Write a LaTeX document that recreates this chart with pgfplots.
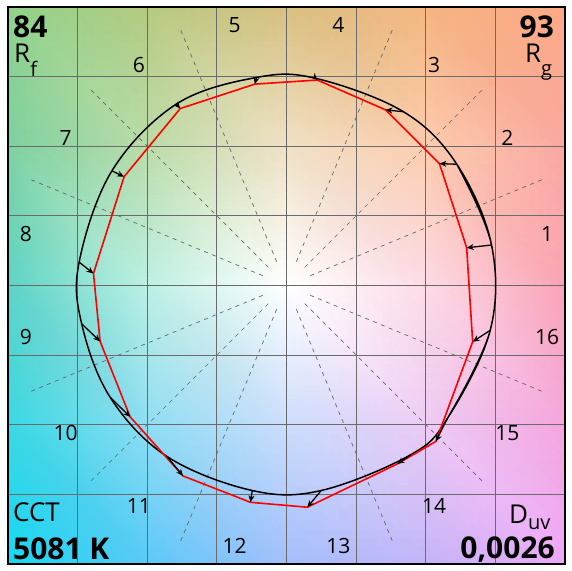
\documentclass[border=0pt]{standalone}
\usepackage{fontspec}
\setmainfont{Open Sans}
\usepackage{pgfplots}
\pgfplotsset{compat=1.18}
\usepackage{pgfplotstable}
\usetikzlibrary{arrows.meta}

% reference (rx,ry) and test (tx,ty) hue-bin averages, bins 1..16
\pgfplotstableread{
rx ry tx ty
0.957 0.189 0.841 0.176
0.795 0.566 0.714 0.569
0.546 0.811 0.462 0.820
0.136 0.967 0.144 0.959
-0.140 0.971 -0.148 0.940
-0.514 0.847 -0.496 0.826
-0.815 0.535 -0.758 0.508
-0.968 0.109 -0.901 0.056
-0.956 -0.179 -0.870 -0.261
-0.823 -0.522 -0.730 -0.613
-0.558 -0.798 -0.483 -0.889
-0.160 -0.957 -0.168 -1.012
0.162 -0.957 0.097 -1.035
0.580 -0.790 0.517 -0.833
0.752 -0.619 0.697 -0.728
0.951 -0.209 0.869 -0.263
}\bins

% reference curve, wrapped so the smooth line closes
\pgfplotstableread{
rx ry
0.752 -0.619
0.951 -0.209
0.957 0.189
0.795 0.566
0.546 0.811
0.136 0.967
-0.140 0.971
-0.514 0.847
-0.815 0.535
-0.968 0.109
-0.956 -0.179
-0.823 -0.522
-0.558 -0.798
-0.160 -0.957
0.162 -0.957
0.580 -0.790
0.752 -0.619
0.951 -0.209
0.957 0.189
0.795 0.566
}\refcurve

% background colour grid
\pgfplotstableread{
x y c
-1.3 -1.3 rgb=0.08,0.85,0.95
-0.65 -1.3 rgb=0.35,0.79,0.97
0 -1.3 rgb=0.64,0.75,0.99
0.65 -1.3 rgb=0.77,0.71,0.97
1.3 -1.3 rgb=0.93,0.66,0.97
-1.3 -0.65 rgb=0.22,0.85,0.89
-0.65 -0.65 rgb=0.56,0.87,0.95
0 -0.65 rgb=0.80,0.87,0.99
0.65 -0.65 rgb=0.93,0.80,0.96
1.3 -0.65 rgb=0.96,0.65,0.86
-1.3 0 rgb=0.36,0.83,0.77
-0.65 0 rgb=0.74,0.94,0.89
0 0 rgb=1,1,1
0.65 0 rgb=0.99,0.86,0.90
1.3 0 rgb=0.98,0.64,0.71
-1.3 0.65 rgb=0.49,0.82,0.63
-0.65 0.65 rgb=0.73,0.86,0.66
0 0.65 rgb=0.94,0.88,0.77
0.65 0.65 rgb=0.99,0.80,0.68
1.3 0.65 rgb=0.98,0.66,0.63
-1.3 1.3 rgb=0.56,0.82,0.54
-0.65 1.3 rgb=0.71,0.79,0.50
0 1.3 rgb=0.85,0.75,0.50
0.65 1.3 rgb=0.96,0.71,0.50
1.3 1.3 rgb=0.99,0.66,0.52
}\bg

\newcommand\binfont{\fontsize{21}{21}\selectfont}
\newcommand\labfont{\fontsize{26}{26}\selectfont}
\newcommand\valfont{\fontsize{30}{30}\selectfont\bfseries}
\newcommand\subfont{\fontsize{20}{20}\selectfont}

\begin{document}
\begin{tikzpicture}
\begin{axis}[
    set layers,
    width=557pt, height=557pt,
    scale only axis,
    xmin=-1.3, xmax=1.3,
    ymin=-1.3, ymax=1.3,
    xtick={-0.975,-0.65,-0.325,0,0.325,0.65,0.975},
    ytick={-0.975,-0.65,-0.325,0,0.325,0.65,0.975},
    xticklabels={}, yticklabels={},
    major tick length=0pt,
    grid=major,
    major grid style={line width=1.1pt, draw=black!58},
    axis line style={line width=1.4pt, black},
]

\addplot[surf, shader=interp, mesh/color input=explicit, mesh/cols=5,
    on layer=axis background] table[x=x, y=y, meta=c] {\bg};

% hue bin boundaries
\pgfplotsinvokeforeach{0,...,15}{
  \draw[black!60, line width=0.7pt, dash pattern=on 4pt off 4.5pt]
    (axis cs:{0.12*cos(#1*22.5)},{0.12*sin(#1*22.5)})
    -- (axis cs:{1.3*cos(#1*22.5)},{1.3*sin(#1*22.5)});
}

\addplot[black, line width=1.5pt, smooth, tension=0.6]
    table[x=rx, y=ry] {\refcurve};
\addplot[red, line width=1.6pt, line join=round]
    table[x=tx, y=ty] {\bins} -- cycle;
\addplot[black, line width=1.3pt, -{Stealth[length=7pt, width=6pt]},
    quiver={u=\thisrow{tx}-\thisrow{rx}, v=\thisrow{ty}-\thisrow{ry}}]
    table[x=rx, y=ry] {\bins};

\pgfplotsinvokeforeach{1,...,16}{
  \node[font=\binfont, inner sep=0pt]
    at (axis cs:{1.24*cos((#1-0.5)*22.5)},{1.24*sin((#1-0.5)*22.5)}) {#1};
}

\node[font=\valfont, anchor=north west, inner sep=0pt] at (axis cs:-1.277,1.258) {84};
\node[font=\labfont, anchor=north west, inner sep=0pt] at (axis cs:-1.272,1.13)
    {R\raisebox{-14pt}{\subfont f}};
\node[font=\valfont, anchor=north east, inner sep=0pt] at (axis cs:1.249,1.258) {93};
\node[font=\labfont, anchor=north west, inner sep=0pt] at (axis cs:1.113,1.13)
    {R\raisebox{-13pt}{\subfont g}};
\node[font=\labfont, anchor=north west, inner sep=0pt] at (axis cs:-1.277,-1.015) {CCT};
\node[font=\valfont, anchor=base west, inner sep=0pt] at (axis cs:-1.277,-1.277) {5081 K};
\node[font=\labfont, anchor=north west, inner sep=0pt] at (axis cs:1.038,-1.024)
    {D\raisebox{-6pt}{\subfont uv}};
\node[font=\valfont, anchor=base east, inner sep=0pt] at (axis cs:1.253,-1.272) {0,0026};
\end{axis}
\path (current axis.south west) +(-8pt,-6pt) (current axis.north east) +(7pt,7pt);
\end{tikzpicture}
\end{document}
